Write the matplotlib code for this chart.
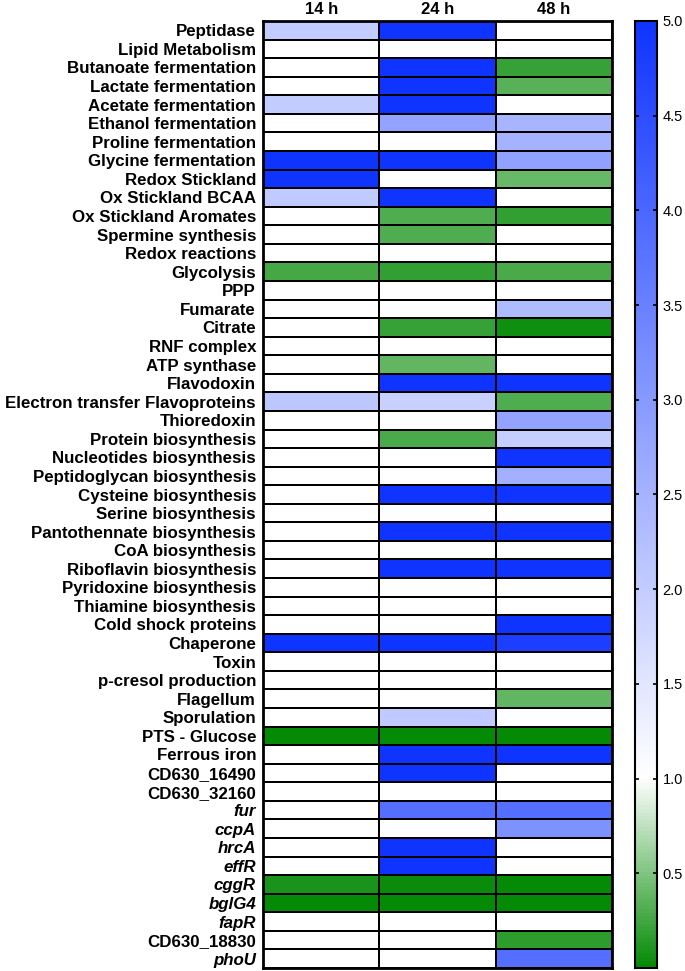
import numpy as np
import matplotlib
matplotlib.use("Agg")
import matplotlib.pyplot as plt
from matplotlib.colors import LinearSegmentedColormap

plt.rcParams['font.family'] = ['Liberation Sans', 'DejaVu Sans']

categories = [
    "Peptidase", "Lipid Metabolism", "Butanoate fermentation", "Lactate fermentation",
    "Acetate fermentation", "Ethanol fermentation", "Proline fermentation",
    "Glycine fermentation", "Redox Stickland", "Ox Stickland BCAA",
    "Ox Stickland Aromates", "Spermine synthesis", "Redox reactions", "Glycolysis",
    "PPP", "Fumarate", "Citrate", "RNF complex", "ATP synthase", "Flavodoxin",
    "Electron transfer Flavoproteins", "Thioredoxin", "Protein biosynthesis",
    "Nucleotides biosynthesis", "Peptidoglycan biosynthesis", "Cysteine biosynthesis",
    "Serine biosynthesis", "Pantothennate biosynthesis", "CoA biosynthesis",
    "Riboflavin biosynthesis", "Pyridoxine biosynthesis", "Thiamine biosynthesis",
    "Cold shock proteins", "Chaperone", "Toxin", "p-cresol production", "Flagellum",
    "Sporulation", "PTS - Glucose", "Ferrous iron", "CD630_16490", "CD630_32160",
    "fur", "ccpA", "hrcA", "effR", "cggR", "bglG4", "fapR", "CD630_18830", "phoU",
]
italic_labels = ["fur", "ccpA", "hrcA", "effR", "cggR", "bglG4", "fapR", "phoU"]

time_points = ["14 h", "24 h", "48 h"]

v14 = [2.0, 1, 1, 1, 2.0, 1, 1, 5, 5, 2.05,
       1, 1, 1, 0.27, 1, 1, 1, 1, 1, 1,
       2.1, 1, 1, 1, 1, 1, 1, 1, 1, 1,
       1, 1, 1, 5, 1, 1, 1, 1, 0.0, 1,
       1, 1, 1, 1, 1, 1, 0.08, 0.0, 1, 1, 1]
v24 = [5, 1, 5, 5, 5, 2.8, 1, 5, 1, 5,
       0.31, 0.31, 1, 0.18, 1, 1, 0.21, 1, 0.38, 5,
       1.93, 1, 0.28, 1, 1, 5, 1, 5, 1, 5,
       1, 1, 1, 5, 1, 1, 1, 2.05, 0.0, 5,
       5, 1, 3.85, 1, 5, 5, 0.02, 0.0, 1, 1, 1]
v48 = [1, 1, 0.2, 0.34, 1, 2.47, 2.5, 2.85, 0.41, 1,
       0.18, 1, 1, 0.29, 1, 2.33, 0.04, 1, 1, 5,
       0.31, 2.8, 1.97, 5, 2.54, 5, 1, 5, 1, 5,
       1, 1, 5, 4.8, 1, 1, 0.38, 1, 0.0, 5,
       1, 1, 3.85, 3.15, 1, 1, 0.0, 0.0, 1, 0.17, 3.85]

cbar_ticks = [0.5, 1.0, 1.5, 2.0, 2.5, 3.0, 3.5, 4.0, 4.5, 5.0]

data = np.array([v14, v24, v48]).T

cmap = LinearSegmentedColormap.from_list(
    "gwb", [(0.0, "#058a05"), (0.2, "#ffffff"), (1.0, "#1034ff")])

W, H = 685, 971
fig = plt.figure(figsize=(W / 100, H / 100), dpi=100)

top, bottom = 21, 968
ax = fig.add_axes([263 / W, 1 - bottom / H, (612 - 263) / W, (bottom - top) / H])
mesh = ax.pcolormesh(data, cmap=cmap, vmin=0, vmax=5,
                     edgecolors="black", linewidth=1.3)
ax.set_xlim(0, 3)
ax.set_ylim(len(categories), 0)
ax.set_yticks(np.arange(len(categories)) + 0.5)
ax.set_yticklabels(categories, fontsize=12.2, fontweight="bold")
for lab in ax.get_yticklabels():
    if lab.get_text() in italic_labels:
        lab.set_fontstyle("italic")
ax.xaxis.tick_top()
ax.set_xticks(np.arange(3) + 0.5)
ax.set_xticklabels(time_points, fontsize=12, fontweight="bold")
ax.tick_params(length=0, pad=3)
ax.tick_params(axis="y", pad=5)
for s in ax.spines.values():
    s.set_linewidth(2)

cax = fig.add_axes([635 / W, 1 - bottom / H, 22 / W, (bottom - top) / H])
cb = fig.colorbar(mesh, cax=cax, ticks=cbar_ticks)
cb.ax.set_yticklabels([f"{t:.1f}" for t in cbar_ticks], fontsize=10.5)
cb.outline.set_linewidth(1.5)
cax.tick_params(direction="in", left=True, right=True, length=3, width=1.2, pad=4)

fig.savefig("out.png", dpi=100)
